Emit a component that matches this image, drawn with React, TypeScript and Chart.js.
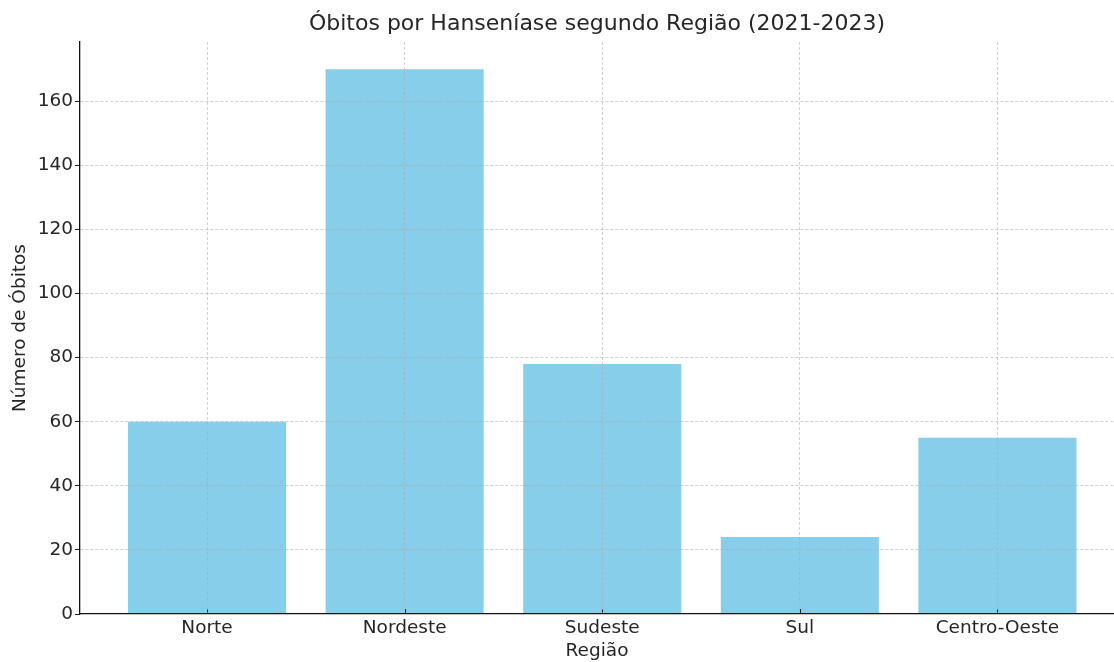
import React, { useEffect, useRef } from "react";
import { Chart, registerables } from "chart.js";

Chart.register(...registerables);

const chartTitle = "Óbitos por Hanseníase segundo Região (2021-2023)";
const xAxisTitle = "Região";
const yAxisTitle = "Número de Óbitos";
const categories = ["Norte", "Nordeste", "Sudeste", "Sul", "Centro-Oeste"];
const obitos = [60, 170, 78, 24, 55];
const yTickStep = 20;
const yMax = 178.5;

const FONT = "'DejaVu Sans', 'Liberation Sans', sans-serif";
const TEXT = "#262626";
const GRID = "rgba(170,170,170,0.7)";

const inwardTicks = {
  id: "inwardTicks",
  afterDatasetsDraw(chart: any) {
    const x = chart.scales.x;
    const ctx = chart.ctx;
    ctx.save();
    ctx.strokeStyle = "#222";
    ctx.lineWidth = 1;
    x.ticks.forEach((t: any) => {
      const px = Math.round(x.getPixelForValue(t.value)) + 0.5;
      ctx.beginPath();
      ctx.moveTo(px, x.top);
      ctx.lineTo(px, x.top - 5);
      ctx.stroke();
    });
    ctx.restore();
  },
};

export default function App() {
  const ref = useRef<HTMLCanvasElement | null>(null);

  useEffect(() => {
    if (!ref.current) return;
    const chart = new Chart(ref.current, {
      type: "bar",
      data: {
        datasets: [
          {
            label: yAxisTitle,
            data: categories.map((_, i) => ({ x: i, y: obitos[i] })),
            backgroundColor: "#87CEEB",
            borderWidth: 0,
            categoryPercentage: 0.8,
            barPercentage: 1,
          },
        ],
      },
      options: {
        animation: false,
        responsive: false,
        maintainAspectRatio: false,
        layout: { padding: 0 },
        plugins: {
          legend: { display: false },
          tooltip: { enabled: false },
          title: {
            display: true,
            text: chartTitle,
            fullSize: false,
            color: TEXT,
            font: { family: FONT, size: 22, weight: "normal" },
            padding: { top: 11, bottom: 4.6 },
          },
        },
        scales: {
          x: {
            type: "linear",
            offset: false,
            min: -0.643,
            max: 4.59,
            afterFit: (s: any) => {
              s.height = 48;
            },
            afterBuildTicks: (s: any) => {
              s.ticks = categories.map((_, i) => ({ value: i }));
            },
            ticks: {
              includeBounds: false,
              autoSkip: false,
              maxRotation: 0,
              padding: 3,
              color: TEXT,
              font: { family: FONT, size: 18.5 },
              callback: (v: any) => categories[Math.round(Number(v))] ?? "",
            },
            grid: {
              z: 1,
              offset: false,
              color: GRID,
              lineWidth: 0.8,
              drawTicks: false,
            },
            border: { display: true, color: "#111", width: 1.3, dash: [3, 2], z: 1 },
            title: {
              display: true,
              text: xAxisTitle,
              color: TEXT,
              font: { family: FONT, size: 18.5 },
              padding: { top: 0, bottom: 0 },
            },
          },
          y: {
            type: "linear",
            min: 0,
            max: yMax,
            afterFit: (s: any) => {
              s.width = 80;
            },
            ticks: {
              stepSize: yTickStep,
              includeBounds: false,
              padding: 2,
              color: TEXT,
              font: { family: FONT, size: 18.5 },
            },
            grid: {
              z: 1,
              color: (c: any) => (c.tick && c.tick.value === 0 ? "rgba(0,0,0,0)" : GRID),
              lineWidth: 0.8,
              drawTicks: true,
              tickLength: 5,
              tickColor: "#222",
              tickWidth: 1,
              tickBorderDash: [],
            },
            border: { display: true, color: "#111", width: 1.3, dash: [3, 2], z: 1 },
            title: {
              display: true,
              text: yAxisTitle,
              color: TEXT,
              font: { family: FONT, size: 18.5 },
              padding: { top: 9, bottom: 0 },
            },
          },
        },
      } as any,
      plugins: [inwardTicks],
    });
    return () => chart.destroy();
  }, []);

  return (
    <div
      style={{
        position: "fixed",
        left: 0,
        top: 0,
        width: 1114,
        height: 662,
        overflow: "hidden",
        background: "#fff",
      }}
    >
      <canvas ref={ref} width={1114} height={662} style={{ width: 1114, height: 662, display: "block" }} />
    </div>
  );
}
